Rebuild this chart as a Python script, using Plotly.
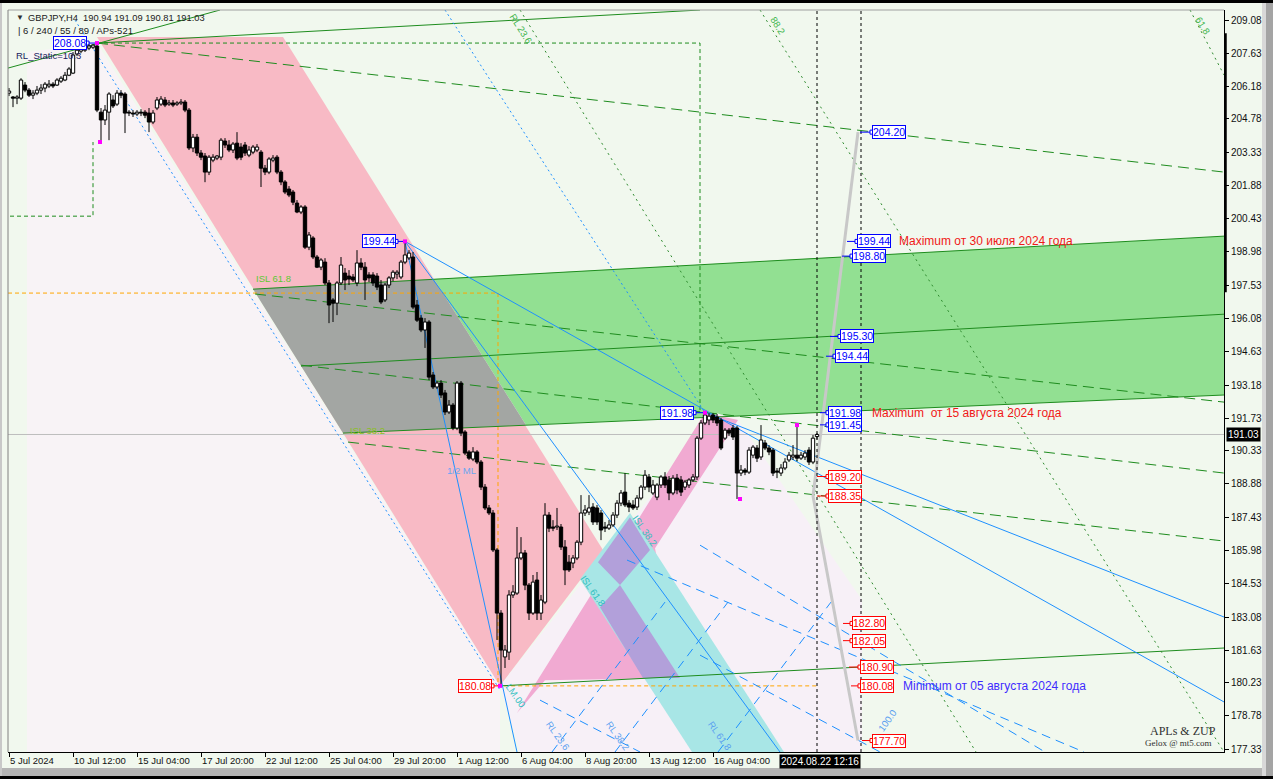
import plotly.graph_objects as go

# ---------------- candles: GBPJPY H4 (index 0 = first visible bar) ----------------
open_ = [205.90,205.73,205.68,205.68,206.25,206.03,205.81,205.90,206.03,206.12,
 206.21,206.29,206.25,206.42,206.47,206.68,206.77,207.60,207.73,207.77,
 207.86,207.90,207.95,205.07,204.73,205.07,205.60,205.42,205.90,205.86,
 205.07,205.03,204.99,205.07,205.07,205.03,204.64,205.25,205.42,205.60,
 205.42,205.47,205.42,205.47,205.51,205.16,203.51,203.98,203.29,203.16,
 202.46,202.98,203.07,203.11,203.81,203.64,203.42,203.72,203.55,203.64,
 203.20,203.33,203.42,203.33,202.63,202.46,202.98,203.11,202.46,202.03,
 201.72,201.59,201.11,200.72,200.94,199.19,199.59,198.76,198.32,198.54,
 197.63,196.89,196.75,197.63,198.06,197.93,197.89,197.63,198.50,198.32,
 197.98,197.98,197.93,197.54,196.89,197.54,197.85,198.02,197.89,198.54,
 198.72,198.76,196.67,196.10,195.58,195.93,193.62,193.10,193.27,192.84,
 192.01,192.31,191.31,193.27,191.14,190.27,189.96,190.27,189.83,188.74,
 187.83,187.61,186.00,183.25,181.34,181.55,184.04,184.12,185.65,185.87,
 184.47,183.25,184.69,183.25,183.73,187.52,187.00,187.00,187.00,186.13,
 185.47,185.43,185.65,186.34,187.61,187.65,187.87,187.83,187.61,187.00,
 186.95,187.09,187.52,188.04,188.52,188.04,187.96,187.87,188.26,188.74,
 189.18,188.48,188.30,188.83,189.18,189.05,188.48,189.13,189.05,188.74,
 188.83,189.05,189.18,190.87,191.53,191.66,191.88,191.79,191.66,190.87,
 191.22,191.31,191.31,189.35,189.48,189.39,190.13,190.44,190.05,190.66,
 190.44,190.35,189.44,189.35,189.57,189.92,190.05,190.13,190.00,190.05,
 190.35,189.83,190.94]
high_ = [206.12,205.77,205.81,206.55,206.38,206.12,206.03,206.21,206.29,206.38,
 206.47,206.38,206.55,206.64,206.82,207.03,207.69,207.90,207.95,207.99,
 208.03,208.03,208.08,205.25,205.38,205.94,205.81,206.03,206.03,205.94,
 205.16,205.16,205.16,205.20,205.16,205.25,205.16,205.73,205.77,205.73,
 205.60,205.60,205.55,205.64,205.60,205.25,204.12,204.12,203.42,203.29,
 203.20,203.24,203.20,203.94,203.94,203.85,203.77,204.20,203.72,203.77,
 203.59,203.64,203.68,203.42,202.77,203.11,203.20,203.20,202.55,202.11,
 201.85,201.68,201.24,201.02,201.02,199.85,199.67,198.85,198.71,198.71,
 197.76,196.97,197.71,198.76,198.28,198.19,198.02,199.06,198.71,198.54,
 198.10,198.10,198.06,197.76,197.63,197.93,198.19,198.19,198.63,199.44,
 199.06,198.98,196.89,196.23,196.10,196.01,193.75,193.36,193.40,192.97,
 192.53,192.40,193.36,193.36,191.22,190.35,190.48,190.35,189.92,188.87,
 187.96,187.74,186.08,183.38,181.86,184.25,184.47,187.00,186.56,186.00,
 184.56,184.91,185.04,184.04,188.04,187.65,187.30,187.83,187.13,186.43,
 185.78,185.78,186.43,188.39,187.96,188.39,188.04,187.96,187.74,187.22,
 187.30,187.65,188.17,188.61,189.35,188.17,188.17,188.39,188.83,189.48,
 189.31,189.05,188.91,189.26,189.39,189.22,189.26,189.31,189.22,189.05,
 189.13,189.31,190.96,191.66,191.98,191.96,191.96,191.92,191.75,191.31,
 191.31,191.44,191.40,189.70,189.57,190.48,190.57,190.57,191.44,190.79,
 190.57,190.44,189.57,189.74,190.00,190.27,190.57,191.44,190.27,190.35,
 190.48,191.01,191.09]
low_ = [205.77,205.29,205.42,205.60,205.94,205.73,205.64,205.81,205.86,205.94,
 206.12,206.12,206.21,206.34,206.42,206.64,206.73,207.51,207.64,207.69,
 207.77,207.82,205.07,203.77,204.51,203.85,205.25,205.34,205.68,204.16,
 204.90,204.86,204.90,204.90,204.81,204.20,204.55,205.16,205.34,205.29,
 205.34,205.29,205.34,205.38,205.07,203.42,203.33,203.16,202.98,202.02,
 202.33,202.89,202.98,202.98,203.51,203.33,203.29,202.98,202.98,203.16,
 203.11,203.24,203.33,201.81,202.33,202.37,202.89,202.37,201.89,201.50,
 201.37,201.02,200.67,200.63,199.11,199.06,198.67,198.28,198.19,197.54,
 195.88,195.93,196.23,197.54,197.32,197.54,197.67,197.49,198.19,196.89,
 197.67,197.50,197.32,196.71,196.80,197.41,197.71,197.80,197.80,198.45,
 198.63,196.49,195.93,195.49,194.80,193.40,193.01,193.01,192.62,191.88,
 191.92,191.22,191.22,190.96,190.13,189.92,189.87,189.74,188.61,187.74,
 187.52,185.91,182.08,180.08,180.86,181.21,183.91,184.04,185.56,184.25,
 182.95,183.17,182.95,182.95,183.64,186.78,186.82,186.87,186.00,184.47,
 185.04,185.21,185.56,186.21,187.48,187.52,187.09,187.09,186.43,186.78,
 186.87,187.00,187.39,187.91,187.87,187.65,187.74,187.74,188.17,188.61,
 188.52,188.39,188.17,188.70,188.70,188.17,188.39,188.43,188.35,188.61,
 188.70,188.96,189.05,190.79,191.44,191.44,191.53,191.40,190.35,190.79,
 190.96,190.79,188.22,189.22,189.26,189.31,190.00,189.83,189.92,190.35,
 190.13,189.22,189.13,189.22,189.48,189.83,189.92,189.87,189.92,189.92,
 189.70,189.74,190.81]
close_ = [205.99,205.68,205.73,206.47,206.03,205.81,205.90,206.03,206.12,206.29,
 206.29,206.21,206.47,206.55,206.68,206.95,207.56,207.77,207.82,207.90,
 207.95,207.99,205.16,204.73,205.16,205.86,205.34,205.90,205.81,205.03,
 205.03,204.99,205.07,205.03,204.94,204.64,205.03,205.60,205.64,205.38,
 205.47,205.38,205.47,205.51,205.16,203.51,203.98,203.29,203.11,202.46,
 203.11,203.11,203.16,203.85,203.64,203.42,203.68,203.07,203.11,203.29,
 203.42,203.55,203.55,202.63,202.46,203.03,203.07,202.46,202.03,201.59,
 201.46,201.15,200.72,200.94,199.19,199.72,198.76,198.32,198.63,197.63,
 196.67,196.75,197.63,198.41,197.76,197.80,197.76,198.50,198.32,197.76,
 197.85,197.63,197.45,196.80,197.54,197.85,198.10,198.10,198.54,198.85,
 198.93,196.58,196.01,195.58,195.93,193.53,193.10,193.27,192.75,192.01,
 192.31,191.31,193.27,191.09,190.22,190.00,190.27,189.83,188.74,187.83,
 187.61,186.00,183.25,181.64,181.64,184.04,184.17,185.65,185.87,184.47,
 183.25,184.60,183.25,183.82,187.52,186.95,186.95,187.04,186.13,185.13,
 185.13,185.65,186.34,187.61,187.74,187.83,187.22,187.22,186.87,186.95,
 187.09,187.52,188.04,188.48,187.96,187.87,187.83,188.26,188.74,189.26,
 188.74,188.83,188.83,189.18,188.83,188.48,189.13,188.61,188.52,188.96,
 189.05,189.18,190.87,191.53,191.88,191.83,191.66,191.53,190.44,191.22,
 191.09,190.92,189.35,189.48,189.39,190.35,190.48,190.00,190.79,190.44,
 190.27,189.35,189.39,189.57,189.83,190.13,190.13,190.00,190.13,190.22,
 189.83,190.87,191.03]

# ---------------- axes ----------------
time_tick_bars = [0, 16, 32, 48, 64, 80, 96, 112, 128, 144, 160, 176]
time_tick_labels = ["5 Jul 2024", "10 Jul 12:00", "15 Jul 04:00", "17 Jul 20:00",
                    "22 Jul 12:00", "25 Jul 04:00", "29 Jul 20:00", "1 Aug 12:00",
                    "6 Aug 04:00", "8 Aug 20:00", "13 Aug 12:00", "16 Aug 04:00"]
price_ticks = [209.08, 207.63, 206.18, 204.78, 203.33, 201.88, 200.43, 198.98, 197.53,
               196.08, 194.63, 193.18, 191.73, 190.33, 188.88, 187.43, 185.98, 184.53,
               183.08, 181.63, 180.23, 178.78, 177.33]
last_price = 191.03
cursor_time = "2024.08.22 12:16"

# ---------------- drawn objects (bar index, price) ----------------
pale_zone_x = [4.5, 22, 122.75, 122.75, 4.5]
pale_zone_y = [207.69, 208.08, 180.08, 177.20, 177.20]
pink_channel_x = [22, 68.5, 148.5, 122.75]
pink_channel_y = [208.34, 208.34, 186.00, 180.08]
green_band_x = [106.25, 303.75, 303.75, 129.25]
green_band_y = [197.80, 199.67, 192.75, 191.44]
gray_zone_x = [61, 106.25, 129.25, 83.5]
gray_zone_y = [197.36, 197.80, 191.44, 191.09]
lav_zone_x = [122.75, 177, 182.25, 213.25, 213.25, 127.75]
lav_zone_y = [180.08, 191.96, 191.66, 183.82, 177.20, 177.20]
magenta_x = [127, 174, 182.25, 161.5, 167.75, 134]
magenta_y = [178.90, 191.98, 191.66, 186.08, 180.42, 180.33]
cyan_x = [142.75, 155.25, 193.75, 170.75]
cyan_y = [184.73, 187.61, 177.20, 177.20]
purple1_x = [147.25, 155.25, 160.25, 152.75]
purple1_y = [185.47, 187.43, 186.00, 184.47]
purple2_x = [147.75, 152.75, 167.75, 158.5]
purple2_y = [183.51, 184.47, 180.42, 180.42]

green_solid = [([-0.25, 52.75], [206.99, 209.52]), ([22, 172.75], [208.08, 209.52]),
               ([61, 303.75], [197.36, 199.67]), ([73, 303.75], [194.01, 196.27]),
               ([83.5, 303.75], [191.09, 192.75]), ([122.75, 303.75], [180.08, 181.73])]
green_dashed = [([22, 303.75], [208.08, 202.46]), ([61.5, 303.75], [197.15, 192.44]),
                ([73, 303.75], [194.05, 189.35]), ([84.75, 303.75], [190.70, 186.39])]
zup_box = [([22, 172.75, 172.75], [208.08, 208.08, 191.98]),
           ([0.25, 21, 21], [200.54, 200.54, 203.77])]
green_dotted = [([127.75, 241.75], [209.52, 177.20]), ([187.75, 303.75], [209.52, 177.20]),
                ([295.25, 303.75], [209.52, 206.69])]
blue_solid = [([99, 303.75], [199.44, 179.38]), ([99, 192.75], [199.44, 177.20]),
              ([99, 127], [199.44, 177.20]), ([174, 303.75], [191.98, 183.08])]
blue_dotted = [([16.5, 122.75], [209.08, 179.90]), ([109, 174], [209.52, 191.98])]
blue_dashed = [([154.5, 268.75], [185.56, 177.20]), ([172.75, 259], [186.21, 177.20]),
               ([172.75, 217.75], [181.42, 177.20]), ([132.75, 157.75], [179.46, 177.20]),
               ([135.75, 164], [177.20, 183.73]), ([151.5, 179.75], [177.20, 183.73]),
               ([177.25, 205.5], [177.20, 183.73])]
orange_path_x = [-0.25, 122.25, 122.25, 122.75, 202]
orange_path_y = [197.19, 197.19, 180.08, 180.08, 180.08]
zup_proj_x = [212.25, 201, 212.25]
zup_proj_y = [204.20, 188.35, 177.70]
v_lines = [202, 213]
pivot_x = [22, 22.75, 99, 174, 182.75, 197, 122.75]
pivot_y = [208.08, 203.77, 199.44, 191.98, 188.22, 191.44, 180.08]

# price boxes: (price, connector start, box left, colour)
right_boxes = [(204.20, 212.75, 215.75, "b"), (199.44, 209.5, 212, "b"), (198.80, 208.25, 210.75, "b"),
               (195.30, 205.25, 207.75, "b"), (194.44, 204.25, 206.5, "b"), (191.98, 202.75, 204.75, "b"),
               (191.45, 202.75, 204.75, "b"), (189.20, 202, 204.75, "r"), (188.35, 202, 204.75, "r"),
               (182.80, 208.5, 210.75, "r"), (182.05, 208.5, 210.75, "r"), (180.90, 210, 212.75, "r"),
               (180.08, 210.5, 212.75, "r"), (177.70, 213.25, 215.75, "r")]
left_boxes = [(208.08, 19.5, 22, "b"), (199.44, 96.75, 99, "b"), (191.98, 171.25, 173.75, "b"),
              (180.08, 120.75, 122.75, "r")]
notes = [("Maximum от 30 июля 2024 года", 222, 199.44, "#F01818"),
         ("Maximum  от 15 августа 2024 года", 215.25, 191.98, "#F01818"),
         ("Minimum от 05 августа 2024 года", 223, 180.08, "#3F2BFF")]
tool_labels = [("ISL 61.8", 66, 197.84, 0, "#5CC832"), ("ISL 38.2", 89.5, 191.22, 0, "#8CC020"),
               ("1/2 ML", 113, 189.48, 0, "#6CA6F0"), ("RL 23.6", 128, 208.73, 58, "#3CB44B"),
               ("88.2", 192.25, 208.86, 58, "#3CB44B"), ("61.8", 298.5, 208.86, 58, "#3CB44B"),
               ("ISL 61.8", 146, 184.25, 55, "#30C0C0"), ("ISL 38.2", 159, 186.87, 55, "#30C0C0"),
               ("LM.00", 126.75, 179.68, 55, "#30C0C0"), ("RL 23.6", 137.25, 177.94, 55, "#5AA0F0"),
               ("RL 38.2", 152.25, 177.94, 55, "#5AA0F0"), ("RL 61.8", 177.75, 177.94, 55, "#5AA0F0"),
               ("100.0", 219.5, 178.59, -55, "#5AA0F0")]

BLUE = "#1E90FF"
GREEN = "#1E8C1E"
BOXC = {"b": "#0000FF", "r": "#FF0000"}
FONT = "Liberation Sans"

fig = go.Figure()


def poly(xs, ys, color):
    fig.add_trace(go.Scatter(x=xs + [xs[0]], y=ys + [ys[0]], fill="toself", fillcolor=color,
                             mode="lines", line=dict(width=0), hoverinfo="skip", showlegend=False))


def seg(xs, ys, color, width=1, dash="solid"):
    fig.add_trace(go.Scatter(x=xs, y=ys, mode="lines", line=dict(color=color, width=width, dash=dash),
                             hoverinfo="skip", showlegend=False))


poly(pale_zone_x, pale_zone_y, "#F8F3F6")
poly(pink_channel_x, pink_channel_y, "#F8BAC5")
poly(green_band_x, green_band_y, "#92E092")
poly(gray_zone_x, gray_zone_y, "#A3A6A3")
poly(lav_zone_x, lav_zone_y, "#F7F0F7")
poly(magenta_x, magenta_y, "#F1AAD2")
poly(cyan_x, cyan_y, "#A8E6E6")
poly(purple1_x, purple1_y, "#B2A0DA")
poly(purple2_x, purple2_y, "#B2A0DA")

seg([-0.25, 303.75], [last_price, last_price], "#BEBEBE")
seg(orange_path_x, orange_path_y, "#FFA500", 1, "4px,3px")
for xs, ys in green_solid:
    seg(xs, ys, GREEN, 1)
for xs, ys in green_dashed:
    seg(xs, ys, GREEN, 1, "11px,6px")
for xs, ys in zup_box:
    seg(xs, ys, GREEN, 1, "4px,3px")
for xs, ys in green_dotted:
    seg(xs, ys, "#2E8B2E", 1, "2px,4px")
for xs, ys in blue_solid:
    seg(xs, ys, BLUE, 1)
for xs, ys in blue_dotted:
    seg(xs, ys, BLUE, 1, "2px,3px")
for xs, ys in blue_dashed:
    seg(xs, ys, BLUE, 1, "9px,6px")
seg(zup_proj_x, zup_proj_y, "#C8C8C8", 3)
for vx in v_lines:
    seg([vx, vx], [177.20, 209.52], "black", 1, "3px,3px")

# connectors for price boxes
for p, x0, x1, c in right_boxes + left_boxes:
    seg([x0, x1], [p, p], BOXC[c], 1)
bx = [b[2] for b in right_boxes] + [b[1] for b in left_boxes]
by = [b[0] for b in right_boxes] + [b[0] for b in left_boxes]
bc = [BOXC[b[3]] for b in right_boxes] + [BOXC[b[3]] for b in left_boxes]
fig.add_trace(go.Scatter(x=bx, y=by, mode="markers",
                         marker=dict(symbol="square", size=4, color="white", line=dict(color=bc, width=1)),
                         hoverinfo="skip", showlegend=False))

# candle wicks
idx = list(range(len(close_)))
wx, wy = [], []
for i in idx:
    wx += [i, i, None]
    wy += [low_[i], high_[i], None]
seg(wx, wy, "black", 1)

# candle bodies as filled rectangles (scatter layer, above the fills)
HALF = 0.42
for bull, fillc in ((False, "black"), (True, "white")):
    rx, ry = [], []
    for i in idx:
        o, c = open_[i], close_[i]
        if (c >= o) != bull:
            continue
        b0, b1 = min(o, c), max(o, c)
        if b1 - b0 < 0.02:
            b1 = b0 + 0.02
        rx += [i - HALF, i + HALF, i + HALF, i - HALF, i - HALF, None]
        ry += [b0, b0, b1, b1, b0, None]
    fig.add_trace(go.Scatter(x=rx, y=ry, mode="lines", fill="toself", fillcolor=fillc,
                             line=dict(color="black", width=1), hoverinfo="skip", showlegend=False))

fig.add_trace(go.Scatter(x=pivot_x, y=pivot_y, mode="markers",
                         marker=dict(symbol="square", size=4, color="#FF00FF"),
                         hoverinfo="skip", showlegend=False))

# price box annotations
for p, x0, x1, c in right_boxes:
    fig.add_annotation(x=x1, y=p, text=f"{p:.2f}", xanchor="left", yanchor="middle", showarrow=False,
                       font=dict(family=FONT, size=10.5, color=BOXC[c]), bgcolor="white",
                       bordercolor=BOXC[c], borderwidth=1, borderpad=0)
for p, x0, x1, c in left_boxes:
    fig.add_annotation(x=x0, y=p, text=f"{p:.2f}", xanchor="right", yanchor="middle", showarrow=False,
                       font=dict(family=FONT, size=10.5, color=BOXC[c]), bgcolor="white",
                       bordercolor=BOXC[c], borderwidth=1, borderpad=0)
for t, x, y, c in notes:
    fig.add_annotation(x=x, y=y, text=t, xanchor="left", yanchor="middle", showarrow=False,
                       font=dict(family=FONT, size=12, color=c))
for t, x, y, a, c in tool_labels:
    fig.add_annotation(x=x, y=y, text=t, textangle=a, showarrow=False,
                       font=dict(family=FONT, size=9.5, color=c))

# header / corner texts (paper coordinates)
def px_x(px):
    return (px - 8) / 1216


def px_y(py):
    return 1 - (py - 10) / 742


paper_texts = [("▼", 14, 18, 8, "#303030", FONT),
               ("GBPJPY,H4  190.94 191.09 190.81 191.03", 26, 18, 9.3, "#202020", FONT),
               ("| 6 / 240 / 55 / 89 / APs-521", 16, 31, 9.5, "#202020", FONT),
               ("RL_Static=10.3", 14, 55, 9.5, "#202060", FONT),
               ("APLs &amp; ZUP", 1148, 731, 12, "#303030", "Liberation Serif"),
               ("Gelox @ mt5.com", 1143, 743, 9, "#303030", "Liberation Serif")]
for t, x, y, s, c, f in paper_texts:
    fig.add_annotation(xref="paper", yref="paper", x=px_x(x), y=px_y(y), text=t, xanchor="left",
                       yanchor="middle", showarrow=False, font=dict(family=f, size=s, color=c))

fig.add_annotation(xref="paper", yref="y", x=px_x(1226), y=last_price, text=f"{last_price:.2f}",
                   xanchor="left", yanchor="middle", showarrow=False, bgcolor="black",
                   font=dict(family=FONT, size=10, color="white"), borderpad=1)
fig.add_annotation(xref="x", yref="paper", x=192.5, y=px_y(754), text=cursor_time,
                   xanchor="left", yanchor="top", showarrow=False, bgcolor="black",
                   font=dict(family=FONT, size=10, color="white"), borderpad=1)

# frame shapes
shapes = [
    dict(type="rect", xref="paper", yref="paper", x0=px_x(0), x1=px_x(1273), y0=px_y(0), y1=px_y(3),
         fillcolor="black", line=dict(width=0)),
    dict(type="rect", xref="paper", yref="paper", x0=px_x(0), x1=px_x(1273), y0=px_y(768), y1=px_y(776),
         fillcolor="#B4B4B4", line=dict(width=0)),
    dict(type="rect", xref="paper", yref="paper", x0=px_x(0), x1=px_x(1273), y0=px_y(776), y1=px_y(779),
         fillcolor="black", line=dict(width=0)),
    dict(type="rect", xref="paper", yref="paper", x0=px_x(1262), x1=px_x(1266), y0=px_y(3), y1=px_y(776),
         fillcolor="#D8D8D8", line=dict(width=0)),
    dict(type="rect", xref="paper", yref="paper", x0=px_x(1266), x1=px_x(1273), y0=px_y(3), y1=px_y(776),
         fillcolor="#A4A4A4", line=dict(width=0)),
    dict(type="rect", xref="paper", yref="paper", x0=px_x(0), x1=px_x(2), y0=px_y(3), y1=px_y(776),
         fillcolor="#C8C8C8", line=dict(width=0)),
    dict(type="line", xref="paper", yref="paper", x0=0, x1=1, y0=1, y1=1, line=dict(color="#A0A0A0", width=1)),
    dict(type="line", xref="paper", yref="paper", x0=0, x1=0, y0=0, y1=1, line=dict(color="#808080", width=1)),
    dict(type="line", xref="paper", yref="y", x0=px_x(1225.5), x1=px_x(1225.5), y0=197.23, y1=208.51,
         line=dict(color="black", width=2.5)),
]

fig.update_layout(
    width=1273, height=779, margin=dict(l=8, r=49, t=10, b=27, pad=0, autoexpand=False),
    paper_bgcolor="#F1F8EE", plot_bgcolor="#F1F8EE",
    font=dict(family=FONT, size=10, color="#101010"),
    showlegend=False, hovermode=False, dragmode=False,
    shapes=shapes,
    xaxis=dict(range=[-0.25, 303.75], showgrid=False, zeroline=False, showline=True, linecolor="black",
               linewidth=1, ticks="outside", ticklen=4, tickcolor="black", tickvals=time_tick_bars,
               ticktext=time_tick_labels, ticklabelposition="outside right", tickangle=0,
               automargin=False,
               tickfont=dict(family=FONT, size=9.5, color="#101010"), fixedrange=True),
    yaxis=dict(range=[177.20, 209.52], side="right", showgrid=False, zeroline=False, showline=True,
               linecolor="black", linewidth=1, ticks="outside", ticklen=4, tickcolor="black",
               tickvals=price_ticks, ticktext=[f"{v:.2f}" for v in price_ticks], automargin=False,
               tickfont=dict(family=FONT, size=10, color="#101010"), fixedrange=True),
)

fig.write_html("out.html", config={"displayModeBar": False},
               post_script="document.body.style.margin='0';document.body.style.overflow='hidden';")
